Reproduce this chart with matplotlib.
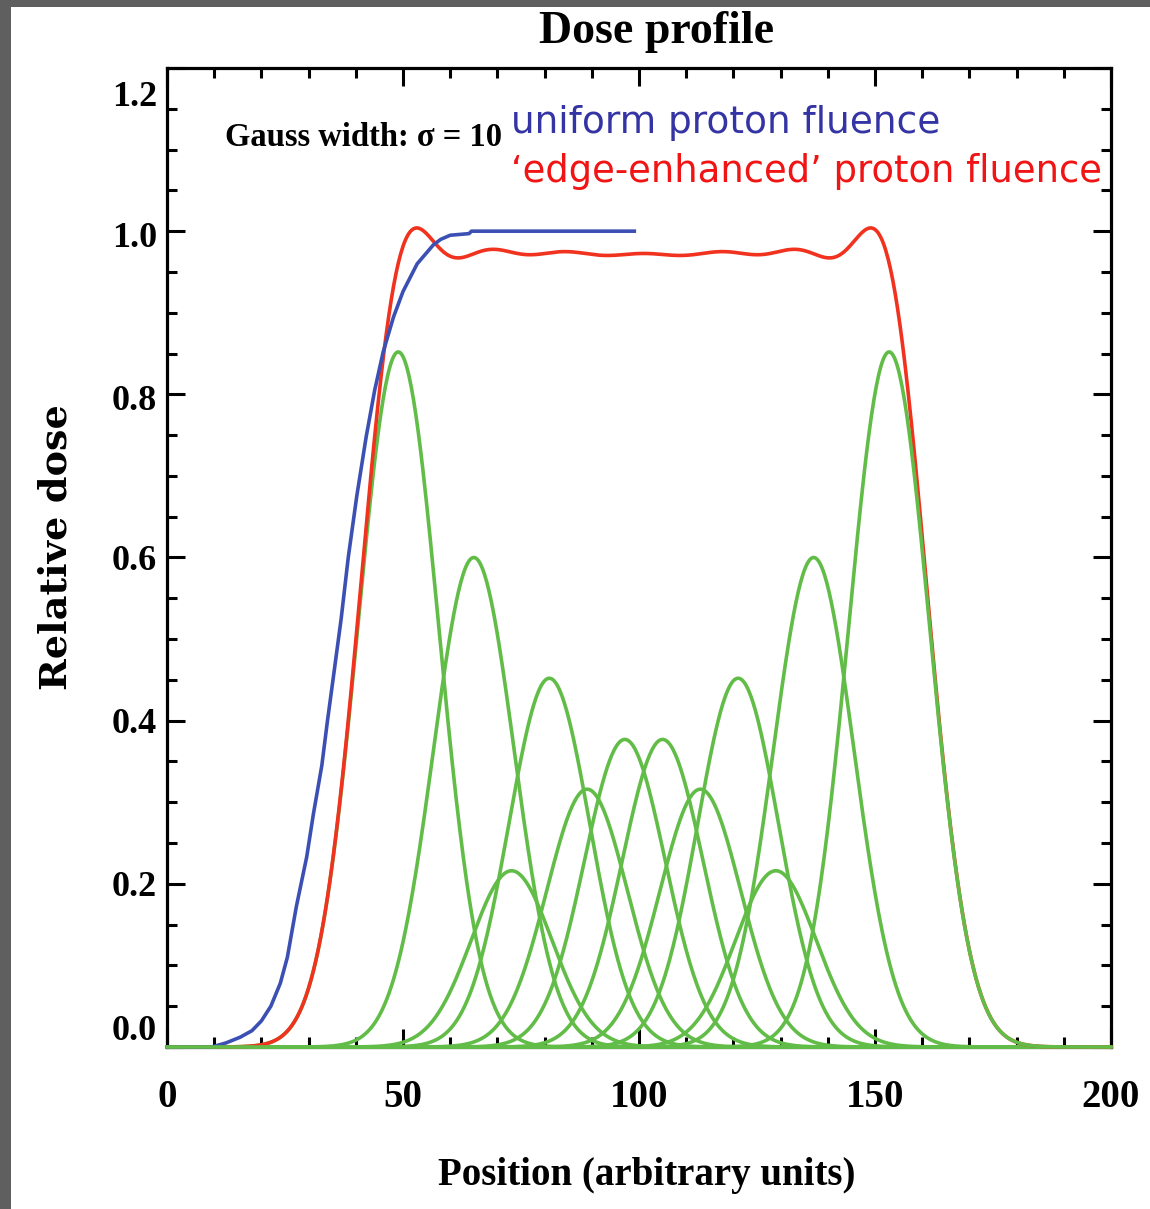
import numpy as np
import matplotlib
matplotlib.use("Agg")
import matplotlib.pyplot as plt
from matplotlib.patches import Rectangle
from matplotlib.transforms import blended_transform_factory, ScaledTranslation
from matplotlib.ticker import MultipleLocator

# ---- data -------------------------------------------------------------
# Gaussian pencil-beam spots of the edge-enhanced fluence pattern
spot_centers = [49, 65, 73, 81, 89, 97, 105, 113, 121, 129, 137, 153]
spot_weights = [0.852, 0.600, 0.216, 0.452, 0.316, 0.377,
                0.377, 0.316, 0.452, 0.216, 0.600, 0.852]
spot_sigma = 8.55

# Dose profile for a uniform proton fluence (left half of the field)
uniform_pos = [0, 9.5, 12.5, 15.5, 18, 20, 22, 24, 25.5, 27.4, 29.6, 31,
               32.8, 34.0, 35.4, 36.9, 38.4, 40.2, 42.2, 44, 45.8, 48, 50,
               53, 56.4, 58, 60, 64, 64.5, 99]
uniform_dose = [0, 0, 0.005, 0.012, 0.02, 0.032, 0.05, 0.078, 0.11, 0.172,
                0.233, 0.285, 0.345, 0.400, 0.460, 0.525, 0.600, 0.675,
                0.748, 0.805, 0.852, 0.895, 0.926, 0.960, 0.983, 0.990,
                0.995, 0.997, 1.0, 1.0]

x_ticks = [0, 50, 100, 150, 200]
x_ticklabels = ["0", "50", "100", "150", "200"]
y_ticks = [0.0, 0.2, 0.4, 0.6, 0.8, 1.0, 1.2]
y_ticklabels = ["0.0", "0.2", "0.4", "0.6", "0.8", "1.0", "1.2"]
# vertical nudges (points) applied to the y tick labels
y_label_nudge = [11, -3, -3, -3, -5, -5, -21]

# ---- styling ----------------------------------------------------------
GREEN = "#62bd48"
RED = "#f0321e"
BLUE = "#3c50b4"
SERIF = "Liberation Serif"

fig = plt.figure(figsize=(11.5, 12.09), dpi=100)
ax = fig.add_axes([167 / 1150, 162 / 1209, 944 / 1150, 979 / 1209])

x = np.linspace(0, 200, 801)
spots = [w * np.exp(-(x - c) ** 2 / (2 * spot_sigma ** 2))
         for c, w in zip(spot_centers, spot_weights)]
total = np.sum(spots, axis=0)

for s in spots[:-1]:
    ax.plot(x, s, color=GREEN, lw=2.6, zorder=3, clip_on=False,
            solid_capstyle="butt")
ax.plot(x, total, color=RED, lw=2.6, zorder=4, clip_on=False)
ax.plot(uniform_pos, uniform_dose, color=BLUE, lw=2.6, zorder=5,
        clip_on=False)
ax.plot(x, spots[-1], color=GREEN, lw=2.6, zorder=6, clip_on=False)

ax.set_xlim(0, 200)
ax.set_ylim(0, 1.2)

for sp in ax.spines.values():
    sp.set_linewidth(2.3)
    sp.set_zorder(2.5)

ax.xaxis.set_major_locator(MultipleLocator(50))
ax.xaxis.set_minor_locator(MultipleLocator(10))
ax.yaxis.set_major_locator(MultipleLocator(0.2))
ax.yaxis.set_minor_locator(MultipleLocator(0.05))
ax.tick_params(which="both", direction="in", top=True, right=True,
               labelbottom=False, labelleft=False, width=2.2, color="black")
ax.tick_params(which="major", length=13)
ax.tick_params(which="minor", length=7)

# tick labels
tx = blended_transform_factory(ax.transData, ax.transAxes)
for v, lab in zip(x_ticks, x_ticklabels):
    ax.text(v, -0.052, lab, transform=tx, ha="center", va="center",
            fontsize=28, fontweight="bold", family=SERIF)
ty = blended_transform_factory(ax.transAxes, ax.transData)
for v, lab, dy in zip(y_ticks, y_ticklabels, y_label_nudge):
    ax.text(-0.0106, v, lab, ha="right", va="center",
            fontsize=26, fontweight="bold", family=SERIF,
            transform=ty + ScaledTranslation(0, dy / 72, fig.dpi_scale_trans))

# titles and axis names
fig.text(657 / 1150, 1 - 32 / 1209, "Dose profile", ha="center",
         va="center", fontsize=33, fontweight="bold", family=SERIF)
fig.text(647 / 1150, 1 - 1175 / 1209, "Position (arbitrary units)",
         ha="center", va="center", fontsize=28, fontweight="bold",
         family=SERIF)
fig.text(56 / 1150, 1 - 547 / 1209, "Relative dose", ha="center",
         va="center", rotation=90, fontsize=27.5, fontweight="bold",
         family="DejaVu Serif")

# annotations
fig.text(225 / 1150, 1 - 138 / 1209, "Gauss width: \u03c3 = 10",
         ha="left", va="center", fontsize=23.5, fontweight="bold",
         family=[SERIF, "DejaVu Serif"])
fig.text(511 / 1150, 1 - 133 / 1209, "uniform proton fluence",
         ha="left", va="baseline", fontsize=27, color="#3434a4",
         family="DejaVu Sans")
fig.text(511 / 1150, 1 - 182 / 1209,
         "\u2018edge-enhanced\u2019 proton fluence",
         ha="left", va="baseline", fontsize=26.6, color="#f01414",
         family="DejaVu Sans")

# grey frame along the left and top edges
fig.patches.append(Rectangle((0, 0), 11 / 1150, 1, transform=fig.transFigure,
                             facecolor="#5f5f5f", edgecolor="none"))
fig.patches.append(Rectangle((0, 1 - 7 / 1209), 1, 7 / 1209,
                             transform=fig.transFigure,
                             facecolor="#5f5f5f", edgecolor="none"))

fig.savefig("out.png", dpi=100)
